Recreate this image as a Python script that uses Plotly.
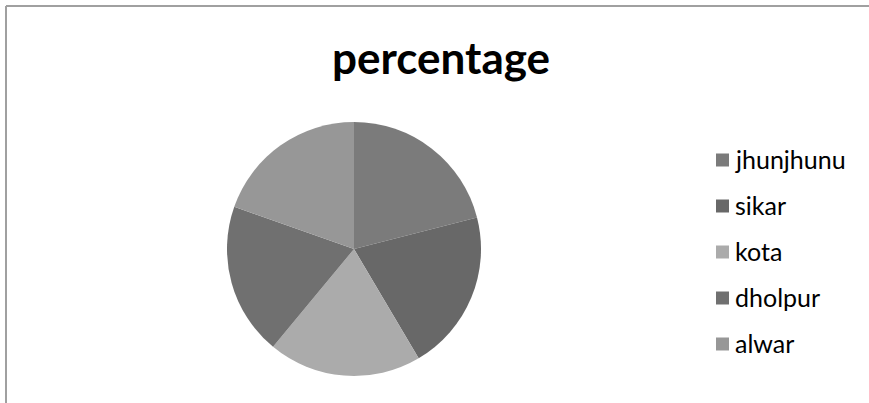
import plotly.graph_objects as go

labels = ["jhunjhunu", "sikar", "kota", "dholpur", "alwar"]
values = [21.0, 20.5, 19.5, 19.4, 19.6]
colors = ["#7b7b7b", "#686868", "#ababab", "#707070", "#979797"]
title_text = "percentage"

W, H = 869, 403
cx, cy, r = 354, 249, 127

fig = go.Figure(go.Pie(
    labels=labels, values=values, sort=False, direction="clockwise", rotation=0,
    marker=dict(colors=colors, line=dict(width=0)),
    textinfo="none", hoverinfo="label+value+percent", showlegend=False,
    domain=dict(x=[(cx - r) / W, (cx + r) / W], y=[(H - cy - r) / H, (H - cy + r) / H]),
))

shapes = [
    dict(type="line", xref="paper", yref="paper", x0=6 / W, x1=1, y0=1 - 6 / H, y1=1 - 6 / H,
         line=dict(color="#a0a0a0", width=2)),
    dict(type="line", xref="paper", yref="paper", x0=6 / W, x1=6 / W, y0=0, y1=1 - 6 / H,
         line=dict(color="#a0a0a0", width=2)),
]
annotations = [dict(text="<b>%s</b>" % title_text, x=441 / W, y=1 - 57 / H, xref="paper", yref="paper",
                    showarrow=False, xanchor="center", yanchor="middle",
                    font=dict(family="Lato", size=44, color="#000000"))]
for i, (lab, col) in enumerate(zip(labels, colors)):
    yc = 160 + 46 * i
    shapes.append(dict(type="rect", xref="paper", yref="paper",
                       x0=716 / W, x1=729 / W, y0=1 - (yc + 6.5) / H, y1=1 - (yc - 6.5) / H,
                       fillcolor=col, line=dict(width=0)))
    annotations.append(dict(text=lab, x=733 / W, y=1 - (yc - 1) / H, xref="paper", yref="paper",
                            showarrow=False, xanchor="left", yanchor="middle",
                            font=dict(family="Lato", size=25, color="#000000")))

fig.update_layout(width=W, height=H, margin=dict(l=0, r=0, t=0, b=0),
                  paper_bgcolor="white", plot_bgcolor="white",
                  shapes=shapes, annotations=annotations)
fig.write_html("out.html")
